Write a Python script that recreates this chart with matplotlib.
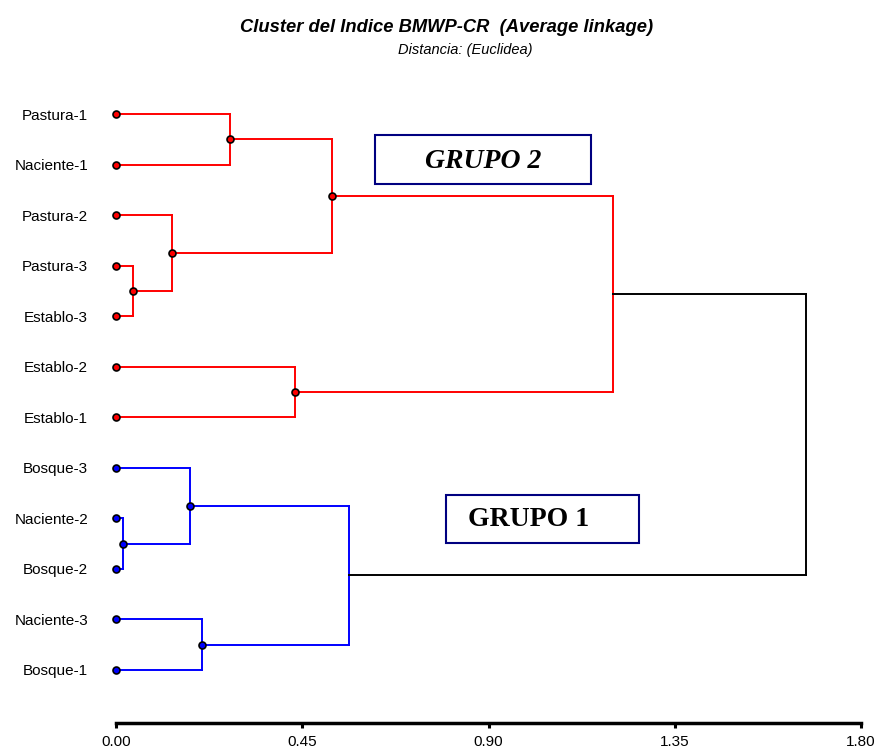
import matplotlib.pyplot as plt
from matplotlib.patches import Rectangle

plt.rcParams['font.family'] = ['Liberation Sans', 'DejaVu Sans']

# hojas en el orden del dendrograma (de arriba hacia abajo)
hojas = ['Pastura-1', 'Naciente-1', 'Pastura-2', 'Pastura-3', 'Establo-3',
         'Establo-2', 'Establo-1', 'Bosque-3', 'Naciente-2', 'Bosque-2',
         'Naciente-3', 'Bosque-1']

# uniones (nodo_a, nodo_b, distancia); nodos nuevos desde el 12
izq = [3, 8, 2, 7, 10, 0, 5, 17, 15, 19, 21]
der = [4, 9, 12, 13, 11, 1, 6, 14, 16, 18, 20]
dist = [0.040, 0.018, 0.135, 0.179, 0.207, 0.275, 0.432, 0.522, 0.563, 1.200, 1.667]

grupo2, grupo1, raiz = 21, 20, 22

xticks = [0.00, 0.45, 0.90, 1.35, 1.80]

fig = plt.figure(figsize=(8.76, 7.48), dpi=100)
W, H = 876, 748
ax = fig.add_axes([116 / W, 25 / H, 745 / W, 643 / H])

# posiciones de cada nodo
pos_y = {i: float(i) for i in range(len(hojas))}
pos_x = {i: 0.0 for i in range(len(hojas))}
hijos = {}
for k, (a, b, d) in enumerate(zip(izq, der, dist)):
    n = len(hojas) + k
    pos_y[n] = (pos_y[a] + pos_y[b]) / 2
    pos_x[n] = d
    hijos[n] = (a, b)


def descendientes(n):
    if n not in hijos:
        return {n}
    a, b = hijos[n]
    return {n} | descendientes(a) | descendientes(b)


color = {}
for n in descendientes(grupo2):
    color[n] = 'red'
for n in descendientes(grupo1):
    color[n] = 'blue'
color[raiz] = 'black'

lw = 1.4
for n, (a, b) in hijos.items():
    c = color[n]
    x = pos_x[n]
    ax.plot([x, x], [pos_y[a], pos_y[b]], color=c, lw=lw, clip_on=False)
    for h in (a, b):
        ax.plot([pos_x[h], x], [pos_y[h], pos_y[h]], color=c, lw=lw, clip_on=False)

# puntos en hojas y nodos internos de cada grupo
for n in pos_x:
    if n in (grupo1, grupo2, raiz):
        continue
    ax.plot(pos_x[n], pos_y[n], 'o', ms=5, mfc=color[n], mec='black', mew=1.2,
            clip_on=False, zorder=5)

ax.set_xlim(0, 1.8)
ax.set_ylim(12.05, -0.673)
ax.set_xticks(xticks, [f'{v:.2f}' for v in xticks])
ax.set_yticks(range(len(hojas)), hojas)
ax.tick_params(axis='y', length=0, pad=20, labelsize=11)
ax.tick_params(axis='x', direction='out', length=3.5, width=2.2, pad=5, labelsize=11)
for s in ['left', 'right', 'top']:
    ax.spines[s].set_visible(False)
ax.spines['bottom'].set_linewidth(2.5)

fig.text(447 / W, 1 - 27 / H, 'Cluster del Indice BMWP-CR  (Average linkage)',
         ha='center', va='center', fontsize=13.2, fontweight='bold', style='italic')
fig.text(465 / W, 1 - 50 / H, 'Distancia: (Euclidea)',
         ha='center', va='center', fontsize=10.5, style='italic')

# recuadros de los grupos
for (x0, y0, x1, y1), txt, tx, ty, est in [
        ((375, 135, 591, 184), 'GRUPO 2', 483, 161, 'italic'),
        ((446, 495, 639, 543), 'GRUPO 1', 529, 519, 'normal')]:
    fig.patches.append(Rectangle((x0 / W, 1 - y1 / H), (x1 - x0) / W, (y1 - y0) / H,
                                 transform=fig.transFigure, fill=False,
                                 edgecolor='#000080', lw=1.5))
    fig.text(tx / W, 1 - ty / H, txt, ha='center', va='center', fontsize=20,
             fontweight='bold', style=est, family='Liberation Serif')

fig.savefig('out.png', dpi=100)
